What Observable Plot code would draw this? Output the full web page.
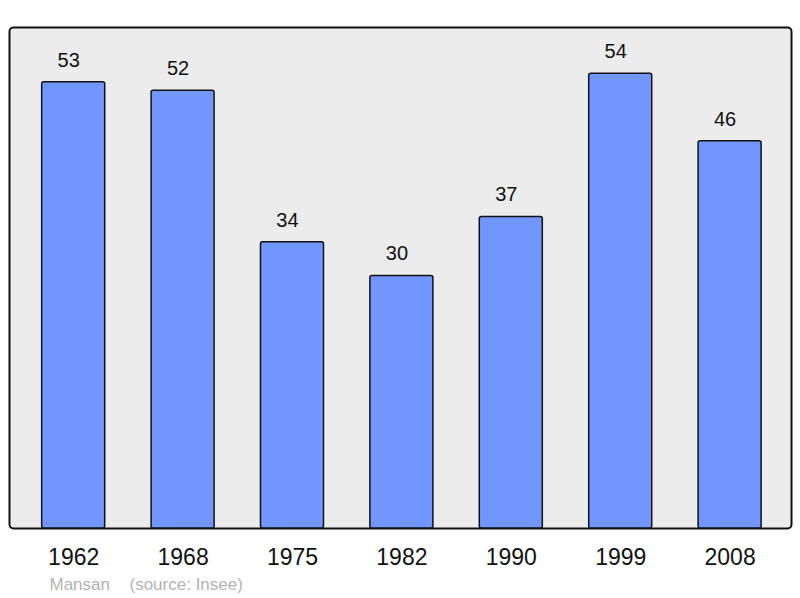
<!DOCTYPE html>
<html>
<head>
<meta charset="utf-8">
<script src="https://cdn.jsdelivr.net/npm/d3@7"></script>
<script src="https://cdn.jsdelivr.net/npm/@observablehq/plot@0.6"></script>
<style>
  html, body { margin: 0; padding: 0; background: #fff; }
  #chart svg { display: block; }
</style>
</head>
<body>
<div id="chart"></div>
<script>
const years = ["1962", "1968", "1975", "1982", "1990", "1999", "2008"];
const population = [53, 52, 34, 30, 37, 54, 46];
const placeName = "Mansan";
const sourceNote = "(source: Insee)";

const data = years.map((y, i) => ({year: y, value: population[i]}));

const chart = Plot.plot({
  width: 800,
  height: 598,
  marginTop: 27,
  marginBottom: 70,
  marginLeft: 9,
  marginRight: 9,
  style: {fontFamily: "'Liberation Sans', Arial, sans-serif", background: "#fff"},
  x: {domain: years, paddingInner: 0.424, paddingOuter: 0.285, range: [10.5, 792.3], round: false},
  y: {domain: [0, 59.5], axis: null},
  marks: [
    Plot.frame({fill: "#ececec", stroke: "#111", strokeWidth: 2, rx: 4}),
    Plot.barY(data, {x: "year", y: "value", fill: "#7197ff", stroke: "#111", strokeWidth: 1.5, rx: 2}),
    Plot.text(data, {x: "year", y: "value", text: d => String(d.value), dx: -5, dy: -22, fontSize: 20, fill: "#111"}),
    Plot.axisX({tickSize: 0, tickPadding: 20, fontSize: 23, color: "#111", label: null}),
    Plot.text([placeName], {frameAnchor: "bottom-left", dx: 40, dy: 61, textAnchor: "start", fontSize: 17, fill: "#b3b3b3", text: d => d}),
    Plot.text([sourceNote], {frameAnchor: "bottom-left", dx: 120, dy: 61, textAnchor: "start", fontSize: 17, fill: "#b3b3b3", text: d => d})
  ]
});
document.getElementById("chart").appendChild(chart);
</script>
</body>
</html>
